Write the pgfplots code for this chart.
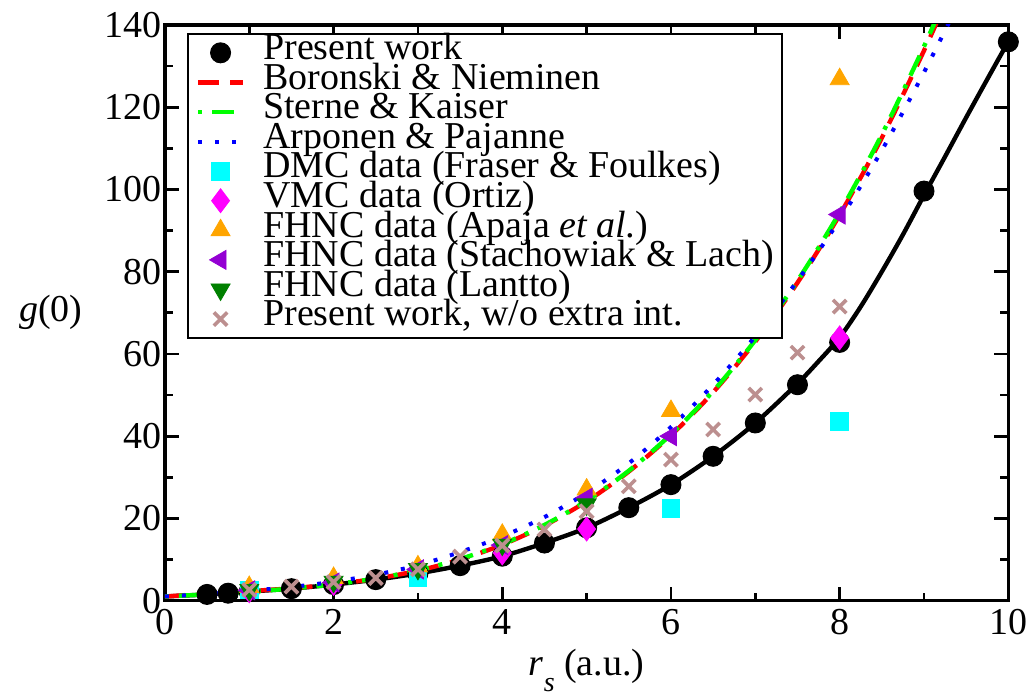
\documentclass[border=0pt]{standalone}
\usepackage{pgfplots}
\pgfplotsset{compat=1.18}
\usepackage{fontspec}
\setmainfont{Liberation Serif}
\definecolor{bnred}{RGB}{255,0,0}
\definecolor{skgreen}{RGB}{0,255,0}
\definecolor{apblue}{RGB}{0,0,255}
\definecolor{dmccyan}{RGB}{0,255,255}
\definecolor{vmcmag}{RGB}{255,0,255}
\definecolor{fhorange}{RGB}{255,165,0}
\definecolor{fhpurple}{RGB}{148,0,211}
\definecolor{fhgreen}{RGB}{0,128,0}
\definecolor{rosy}{RGB}{188,143,143}
\begin{document}
\begin{tikzpicture}
\begin{axis}[
    scale only axis,
    width=422pt, height=288pt,
    xmin=0, xmax=10, ymin=0, ymax=140,
    xtick={0,2,...,10}, ytick={0,20,...,140},
    minor x tick num=1, minor y tick num=1,
    tick align=inside, tick pos=both,
    major tick length=7pt, minor tick length=4pt,
    every tick/.style={black, line width=1.4pt},
    axis line style={line width=1.8pt},
    font=\fontsize{19}{19}\selectfont,
    /pgf/number format/assume math mode=true,
    xticklabel style={yshift=-1pt},
    yticklabel style={xshift=2pt},
    xlabel={\textit{r}\raisebox{-0.9ex}{\fontsize{14}{14}\selectfont\textit{s}} (a.u.)},
    every axis y label/.style={at={(rel axis cs:0,0.5)}, anchor=center, xshift=-57pt},
    ylabel={\textit{g}(0)},
    legend cell align=left,
    legend image code/.code={\draw[mark repeat=2,mark phase=2,#1] plot coordinates {(0pt,0pt) (11.25pt,0pt) (22.5pt,0pt)};},
    legend style={at={(0.0261,0.986)}, anchor=north west, draw=black, line width=1pt,
        inner xsep=4pt, inner ysep=2pt, row sep=0pt, column sep=9pt,
        font=\fontsize{19}{19}\selectfont,
        nodes={inner sep=0pt, text height=10.8pt, text depth=4pt}},
]
% present work fit curve
\addplot[black, line width=2.2pt, smooth, forget plot] coordinates {
    (0,1.0) (0.25,1.25) (0.5,1.5) (1,2.2) (1.5,2.9) (2,3.9) (2.5,5.1) (3,6.6)
    (3.5,8.5) (4,10.8) (4.5,14.0) (5,17.7) (5.5,22.6) (6,28.2) (6.5,35.1)
    (7,43.2) (7.5,52.8) (7.75,58.2) (8,64.0) (8.25,71.5) (8.5,80.0) (8.75,89.0)
    (9,98.6) (9.25,108.0) (9.5,117.5) (9.75,126.8) (10,136.0)
};
\coordinate (bl) at (rel axis cs:0,0);
\coordinate (tr) at (rel axis cs:1,1);

\addplot[only marks, mark=*, mark size=5pt, mark options={fill=black, draw=black, line width=0.5pt}] coordinates {
    (0.5,1.5) (0.75,1.8) (1,2.2) (1.5,2.9) (2,3.9) (2.5,5.1) (3,6.6) (3.5,8.5)
    (4,10.8) (4.5,14.0) (5,17.7) (5.5,22.6) (6,28.2) (6.5,35.1) (7,43.2)
    (7.5,52.5) (8,62.8) (9,99.6) (10,135.9)
};
\addlegendentry{Present work}

\addplot[bnred, line width=2.2pt, smooth, dash pattern=on 10pt off 6pt] coordinates {
    (0,1.0) (0.5,1.67) (1,2.30) (1.5,3.00) (2,3.96) (2.5,5.33) (3,7.28)
    (3.5,9.98) (4,13.58) (4.5,18.24) (5,24.13) (5.5,31.39) (6,40.19)
    (6.5,50.67) (7,63.00) (7.5,77.32) (8,93.79) (8.5,112.55) (9,133.76) (9.25,145.3)
};
\addlegendentry{Boronski \& Nieminen}

\addplot[skgreen, line width=2.2pt, smooth, dash pattern=on 2pt off 5pt on 11pt off 5pt] coordinates {
    (0,1.0) (0.5,1.53) (1,2.17) (1.5,2.93) (2,3.95) (2.5,5.38) (3,7.37)
    (3.5,10.10) (4,13.72) (4.5,18.40) (5,24.30) (5.5,31.58) (6,40.42)
    (6.5,50.95) (7,63.35) (7.5,77.78) (8,94.39) (8.5,113.33) (9,134.78) (9.25,146.5)
};
\addlegendentry{Sterne \& Kaiser}

\addplot[apblue, line width=2pt, smooth, dash pattern=on 2pt off 6.5pt] coordinates {
    (0,1.0) (0.5,1.6) (1,2.4) (1.5,3.3) (2,4.6) (2.5,6.3) (3,8.6) (3.5,11.8)
    (4,15.6) (4.5,20.3) (5,26.2) (5.5,33.4) (6,42.2) (6.5,52.5) (7,64.3)
    (7.5,77.8) (8,92.6) (8.5,109.5) (9,128.5) (9.5,149.0)
};
\addlegendentry{Arponen \& Pajanne}

\addplot[only marks, mark=square*, mark size=4.4pt, mark options={fill=dmccyan, draw=dmccyan, line width=0.4pt}] coordinates {
    (1,2.6) (3,5.5) (6,22.4) (8,43.6)
};
\addlegendentry{DMC data (Fraser \& Foulkes)}

\addplot[only marks, mark=diamond*, mark size=6pt, mark options={fill=vmcmag, draw=vmcmag, line width=0.4pt}] coordinates {
    (1,2.4) (2,4.2) (4,11.6) (5,17.4) (8,63.9)
};
\addlegendentry{VMC data (Ortiz)}

\addplot[only marks, mark=triangle*, mark size=5.5pt, mark options={fill=fhorange, draw=fhorange, line width=0.4pt}] coordinates {
    (1,3.3) (2,5.5) (3,8.3) (4,16.0) (5,27.0) (6,46.1) (8,126.8)
};
\addlegendentry{FHNC data (Apaja \textit{et al.})}

\addplot[only marks, mark=triangle*, mark size=5.5pt, mark options={rotate=90, fill=fhpurple, draw=fhpurple, line width=0.4pt}] coordinates {
    (1,2.5) (2,4.4) (3,7.6) (4,13.5) (5,25.0) (6,40.0) (8,93.9)
};
\addlegendentry{FHNC data (Stachowiak \& Lach)}

\addplot[only marks, mark=triangle*, mark size=5.5pt, mark options={rotate=180, fill=fhgreen, draw=fhgreen, line width=0.4pt}] coordinates {
    (1,2.6) (2,4.6) (3,7.7) (4,13.6) (5,23.4)
};
\addlegendentry{FHNC data (Lantto)}

\addplot[only marks, mark=x, mark size=4.7pt, mark options={draw=rosy, line width=1.8pt}] coordinates {
    (1,2.6) (1.5,3.4) (2,4.5) (2.5,5.5) (3,7.6) (3.5,10.7) (4,13.4) (4.5,17.3)
    (5,21.7) (5.5,27.8) (6,34.3) (6.5,41.6) (7,50.1) (7.5,60.3) (8,71.5)
};
\addlegendentry{Present work, w/o extra int.}
\end{axis}
\path ([xshift=-82.5pt,yshift=-46pt]bl) rectangle ([xshift=12.25pt,yshift=12.5pt]tr);
\end{tikzpicture}
\end{document}
